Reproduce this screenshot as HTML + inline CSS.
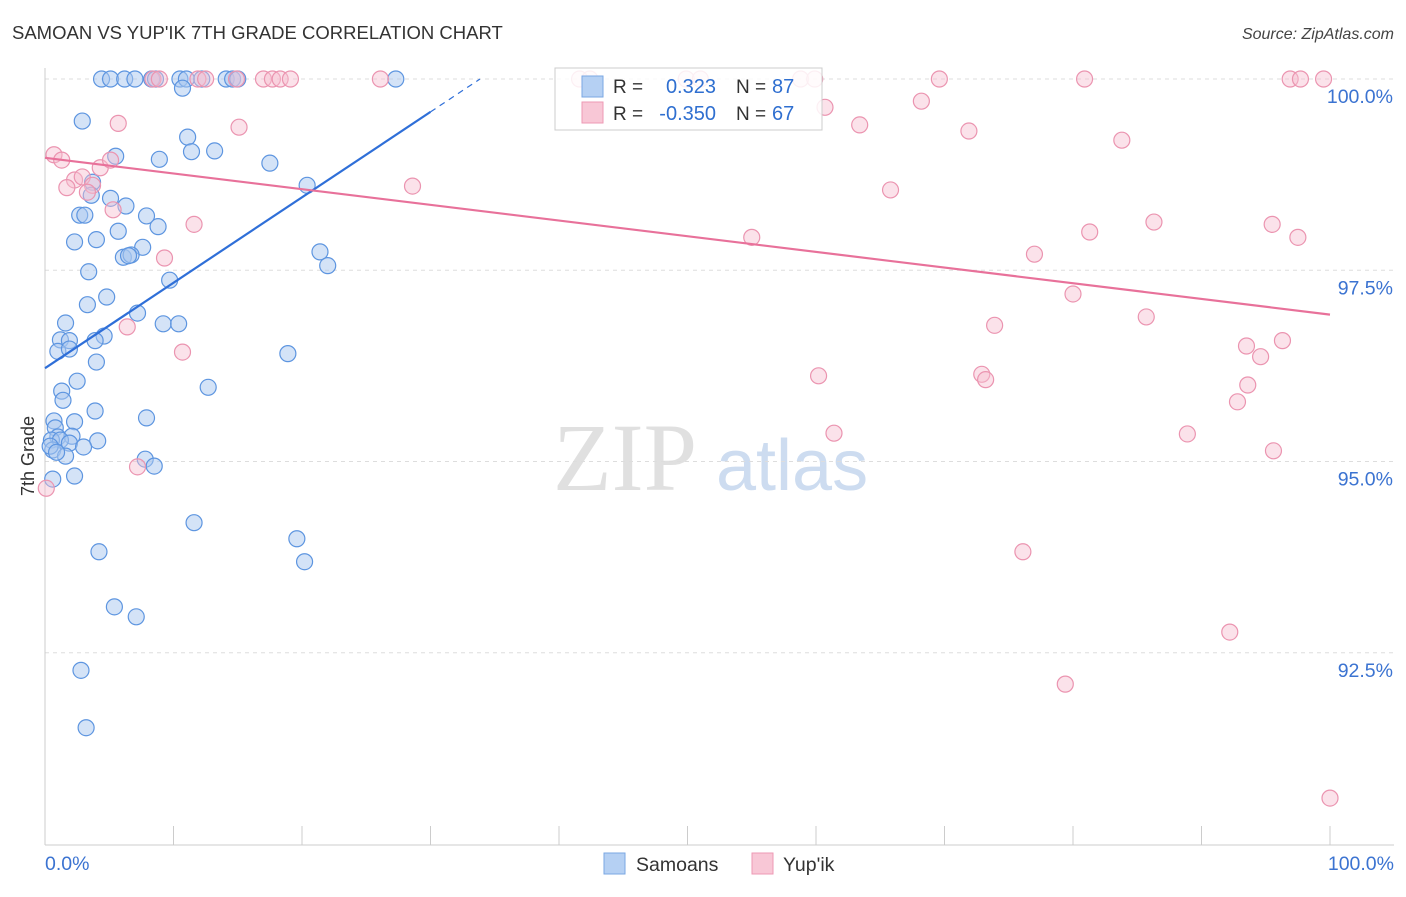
<!DOCTYPE html>
<html><head><meta charset="utf-8"><style>
body{margin:0;background:#fff;font-family:"Liberation Sans",sans-serif}
</style></head><body>
<svg id="chart" width="1406" height="892" xmlns="http://www.w3.org/2000/svg" font-family="Liberation Sans, sans-serif">
<text x="12" y="39" font-size="18.5" fill="#333">SAMOAN VS YUP'IK 7TH GRADE CORRELATION CHART</text>
<text x="1394" y="39" font-size="16" fill="#444" text-anchor="end" font-style="italic">Source: ZipAtlas.com</text>
<text x="553" y="490" font-size="96" fill="#e0e0e0" font-family="Liberation Serif, serif">ZIP</text>
<text x="716" y="490" font-size="72" fill="#cddcf0">atlas</text>
<text transform="translate(34,456) rotate(-90)" font-size="18" fill="#333" text-anchor="middle">7th Grade</text>
<g id="grid"></g><g id="axes"></g><g id="pts"></g><g id="lines"></g>
<g>
<rect x="555" y="68" width="267" height="62" fill="#fff" fill-opacity="0.85" stroke="#ccc"/>
<rect x="582" y="76" width="21" height="21" fill="#b5d0f3" stroke="#7aa7e3"/>
<rect x="582" y="102" width="21" height="21" fill="#f8c7d6" stroke="#ee9ab4"/>
<text x="613" y="93" font-size="19" fill="#333">R =</text><text x="716" y="93" font-size="20" fill="#2f6fd0" text-anchor="end">0.323</text>
<text x="736" y="93" font-size="19" fill="#333">N =</text><text x="772" y="93" font-size="20" fill="#2f6fd0">87</text>
<text x="613" y="120" font-size="19" fill="#333">R =</text><text x="716" y="120" font-size="20" fill="#2f6fd0" text-anchor="end">-0.350</text>
<text x="736" y="120" font-size="19" fill="#333">N =</text><text x="772" y="120" font-size="20" fill="#2f6fd0">67</text>
</g>
<g>
<rect x="604" y="853" width="21" height="21" fill="#b5d0f3" stroke="#7aa7e3"/>
<text x="636" y="871" font-size="19.5" fill="#333">Samoans</text>
<rect x="752" y="853" width="21" height="21" fill="#f8c7d6" stroke="#ee9ab4"/>
<text x="783" y="871" font-size="19.5" fill="#333">Yup'ik</text>
</g>
</svg>
<script>
const blueX=[4.4,5.1,6.2,7.0,8.3,8.6,10.5,11.0,12.2,14.1,14.6,15.0,27.3,10.7,2.9,5.5,11.1,8.9,11.4,13.2,17.5,20.4,3.7,3.6,5.1,6.3,2.7,3.1,7.9,8.8,5.7,2.3,4.0,7.6,6.1,6.7,6.5,21.4,22.0,3.4,9.7,4.8,3.3,7.2,1.6,9.2,10.4,4.6,1.2,1.9,3.9,1.0,1.9,4.0,18.9,2.5,12.7,1.3,1.4,3.9,7.9,0.7,2.3,0.8,1.0,2.1,0.5,1.2,1.9,4.1,3.0,0.6,1.6,7.8,8.5,0.6,2.3,11.6,19.6,4.2,20.2,5.4,7.1,2.8,3.2,0.4,0.9];
const blueY=[100,100,100,100,100,100,100,100,100,100,100,100,100,99.88,99.45,98.99,99.24,98.95,99.05,99.06,98.90,98.61,98.65,98.48,98.44,98.34,98.22,98.22,98.21,98.07,98.01,97.87,97.90,97.80,97.67,97.70,97.69,97.74,97.56,97.48,97.37,97.15,97.05,96.94,96.81,96.80,96.80,96.64,96.59,96.58,96.58,96.44,96.47,96.30,96.41,96.05,95.97,95.92,95.80,95.66,95.57,95.53,95.52,95.44,95.32,95.33,95.28,95.28,95.24,95.27,95.19,95.15,95.07,95.03,94.94,94.77,94.81,94.20,93.99,93.82,93.69,93.10,92.97,92.27,91.52,95.20,95.12];
const pinkX=[8.4,8.9,11.9,12.5,14.9,17.0,17.7,18.3,19.1,26.1,41.6,42.4,49.9,51.0,58.8,59.9,69.6,80.9,96.9,97.7,99.5,60.7,68.2,5.7,15.1,63.4,71.9,83.8,0.7,1.3,4.3,5.1,2.3,2.9,3.7,1.7,3.3,5.3,28.6,65.8,11.6,55.0,81.3,86.3,95.5,97.5,9.3,77.0,80.0,6.4,73.9,85.7,10.7,93.5,94.6,96.3,60.2,72.9,73.2,93.6,92.8,61.4,88.9,95.6,7.2,0.1,76.1,92.2,79.4,100];
const pinkY=[100,100,100,100,100,100,100,100,100,100,100,100,100,100,100,100,100,100,100,100,100,99.63,99.71,99.42,99.37,99.40,99.32,99.20,99.01,98.94,98.84,98.94,98.68,98.72,98.61,98.58,98.52,98.29,98.60,98.55,98.10,97.93,98.00,98.13,98.10,97.93,97.66,97.71,97.19,96.76,96.78,96.89,96.43,96.51,96.37,96.58,96.12,96.14,96.07,96.00,95.78,95.37,95.36,95.14,94.93,94.65,93.82,92.77,92.09,90.60];
const yTicks=[100,97.5,95,92.5];
const yTickLabels=["100.0%","97.5%","95.0%","92.5%"];
const blueTrend=[[0,96.22],[30,99.57]];
const pinkTrend=[[0,98.97],[100,96.92]];
const NS="http://www.w3.org/2000/svg";
const sx=v=>45+v*12.85, sy=v=>79+(100-v)*76.5;
function mk(tag,attrs,parent){const e=document.createElementNS(NS,tag);for(const k in attrs)e.setAttribute(k,attrs[k]);parent.appendChild(e);return e;}
const grid=document.getElementById('grid'),axes=document.getElementById('axes'),pts=document.getElementById('pts'),lines=document.getElementById('lines');
yTicks.forEach((t,i)=>{
 const l=mk('line',{x1:45,x2:1394,y1:sy(t),y2:sy(t),stroke:'#ddd','stroke-dasharray':'4,4'},grid);
 
 
 const tx=mk('text',{x:1393,y:sy(t)+24,'font-size':19.5,fill:'#3b73d1','text-anchor':'end'},axes);
 tx.textContent=yTickLabels[i];
 
 
});
const ax=mk('line',{x1:45,x2:45,y1:68,y2:845,stroke:'#ccc'},axes);


const bx=mk('line',{x1:45,x2:1394,y1:845,y2:845,stroke:'#ccc'},axes);


for(let i=0;i<=10;i++){const t=mk('line',{x1:sx(i*10),x2:sx(i*10),y1:826,y2:845,stroke:'#ccc'},axes);
 
 }
const x0=mk('text',{x:45,y:870,'font-size':19.5,fill:'#3b73d1'},axes);x0.textContent='0.0%';


const x1=mk('text',{x:1394,y:870,'font-size':19.5,fill:'#3b73d1','text-anchor':'end'},axes);x1.textContent='100.0%';


blueX.forEach((v,i)=>{const c=mk('circle',{cx:sx(v),cy:sy(blueY[i]),r:8,fill:'#a9c8f0','fill-opacity':0.5,stroke:'#5d95e0','stroke-width':1.2},pts);
 
 });
pinkX.forEach((v,i)=>{const c=mk('circle',{cx:sx(v),cy:sy(pinkY[i]),r:8,fill:'#f7bfd0','fill-opacity':0.45,stroke:'#eb94b0','stroke-width':1.2},pts);
 
 });
const bt=mk('line',{x1:sx(blueTrend[0][0]),y1:sy(blueTrend[0][1]),x2:sx(blueTrend[1][0]),y2:sy(blueTrend[1][1]),stroke:'#2f6fd8','stroke-width':2.2},lines);


const slope=(blueTrend[1][1]-blueTrend[0][1])/(blueTrend[1][0]-blueTrend[0][0]);
const xe=blueTrend[1][0]+(100-blueTrend[1][1])/slope;
const bd=mk('line',{x1:sx(blueTrend[1][0]),y1:sy(blueTrend[1][1]),x2:sx(xe),y2:sy(100),stroke:'#2f6fd8','stroke-width':1.2,'stroke-dasharray':'6,5'},lines);


const pt=mk('line',{x1:sx(pinkTrend[0][0]),y1:sy(pinkTrend[0][1]),x2:sx(pinkTrend[1][0]),y2:sy(pinkTrend[1][1]),stroke:'#e8719a','stroke-width':2.2},lines);


</script>
</body></html>
